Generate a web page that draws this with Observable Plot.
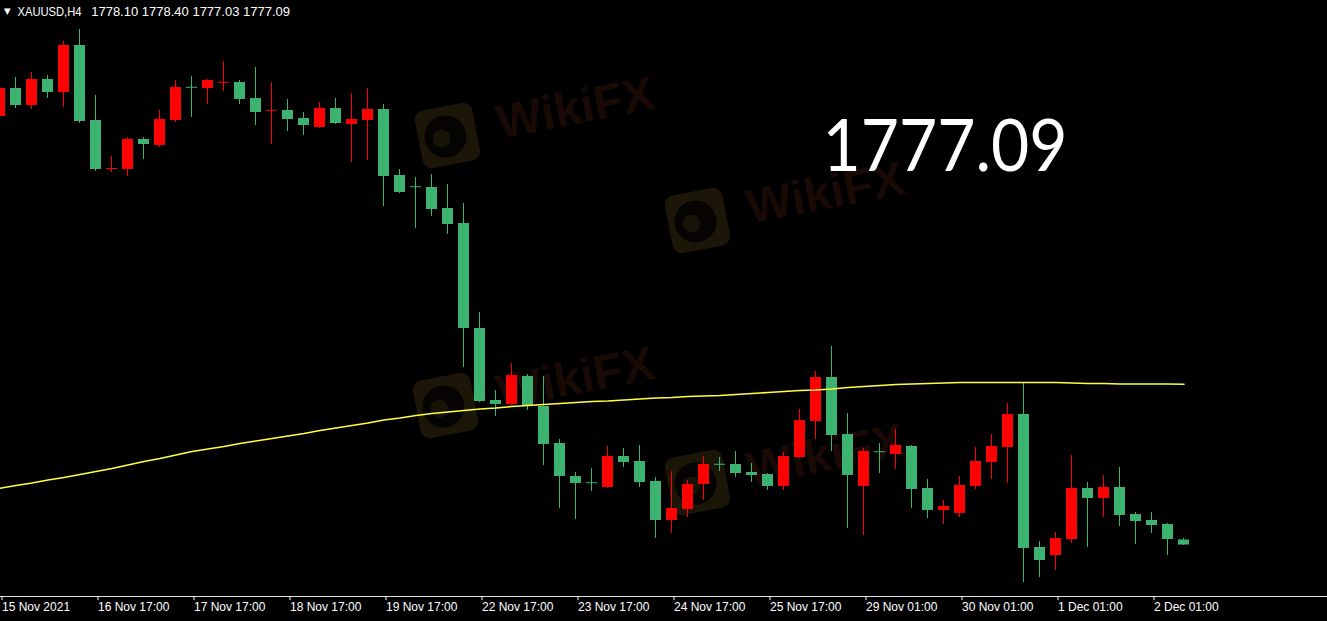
<!DOCTYPE html>
<html><head><meta charset="utf-8">
<script src="https://cdn.jsdelivr.net/npm/d3@7"></script>
<script src="https://cdn.jsdelivr.net/npm/@observablehq/plot@0.6"></script>
<style>
html,body{margin:0;padding:0;background:#000;overflow:hidden}
</style></head><body><div id="chart"></div>
<script>
const symbol = "XAUUSD,H4";
const opens = [1862.80,1868.40,1865.00,1870.20,1867.60,1877.00,1862.00,1852.20,1852.20,1858.20,1857.00,1862.00,1868.60,1868.40,1869.50,1869.60,1866.40,1863.90,1864.00,1862.40,1860.60,1864.40,1861.20,1862.00,1864.20,1851.00,1848.70,1848.60,1844.40,1841.40,1820.40,1806.00,1805.20,1810.80,1804.80,1797.40,1790.80,1789.50,1788.60,1794.80,1793.80,1789.80,1782.00,1784.20,1789.20,1793.20,1793.20,1791.60,1791.20,1788.80,1794.60,1801.80,1810.60,1799.20,1788.80,1795.70,1795.20,1796.80,1788.40,1784.00,1783.40,1788.80,1793.60,1796.60,1803.20,1776.60,1775.00,1778.20,1788.40,1786.40,1788.60,1783.20,1782.00,1781.20,1778.10];
const highs = [1869.20,1870.60,1871.60,1871.00,1877.80,1880.20,1867.00,1854.80,1858.60,1858.60,1864.00,1870.00,1870.80,1870.20,1873.80,1870.00,1872.60,1869.60,1866.20,1863.60,1865.60,1866.40,1867.40,1868.40,1865.20,1852.20,1850.60,1851.20,1849.20,1845.40,1823.60,1808.00,1813.40,1811.20,1810.80,1798.20,1791.60,1792.40,1796.80,1796.40,1797.00,1790.60,1791.80,1790.00,1794.80,1794.60,1795.80,1793.40,1791.40,1795.60,1804.20,1811.80,1816.80,1803.40,1796.40,1797.40,1800.20,1797.00,1790.20,1786.00,1790.80,1796.60,1799.20,1805.40,1809.40,1777.80,1779.60,1795.00,1789.60,1791.00,1792.60,1783.60,1783.60,1781.40,1778.40];
const lows = [1862.40,1864.40,1864.20,1866.40,1864.60,1861.40,1851.80,1851.60,1850.80,1854.20,1856.60,1861.60,1862.60,1865.20,1867.80,1865.20,1861.00,1857.20,1859.80,1859.00,1860.40,1861.20,1853.60,1854.00,1844.80,1847.40,1840.40,1842.80,1839.20,1812.60,1805.60,1802.80,1805.00,1804.00,1793.00,1784.40,1782.20,1787.80,1788.40,1792.60,1788.60,1778.40,1779.40,1782.60,1786.00,1791.80,1790.60,1789.60,1788.00,1788.00,1794.40,1798.20,1795.80,1780.40,1779.00,1791.40,1792.20,1784.40,1782.40,1781.20,1782.60,1788.20,1790.20,1789.40,1769.60,1770.60,1772.00,1777.40,1776.60,1782.60,1780.80,1777.20,1779.40,1775.00,1777.03];
const closes = [1868.40,1865.00,1870.20,1867.60,1877.00,1861.80,1852.20,1852.40,1858.20,1857.20,1862.20,1868.60,1868.50,1870.00,1869.60,1866.20,1863.60,1864.00,1862.20,1861.00,1864.40,1861.40,1862.20,1864.20,1850.80,1847.60,1848.60,1844.20,1841.20,1820.40,1805.80,1805.20,1811.00,1804.80,1797.20,1790.80,1789.40,1789.40,1794.80,1793.60,1789.60,1782.00,1784.40,1789.20,1793.20,1793.10,1791.40,1791.00,1788.80,1794.80,1802.00,1810.60,1799.00,1791.00,1795.80,1795.60,1797.00,1788.20,1784.00,1784.80,1789.00,1793.80,1796.80,1803.20,1776.40,1774.00,1778.40,1788.40,1786.40,1788.60,1783.00,1781.80,1781.00,1778.20,1777.09];
const movingAverage = [1788.46,1789.00,1789.50,1790.10,1790.60,1791.20,1791.80,1792.40,1793.10,1793.80,1794.40,1795.10,1795.80,1796.30,1796.80,1797.40,1797.90,1798.40,1798.90,1799.40,1800.00,1800.50,1801.00,1801.50,1802.10,1802.50,1803.00,1803.40,1803.70,1804.00,1804.30,1804.50,1804.80,1805.00,1805.20,1805.40,1805.60,1805.80,1805.90,1806.10,1806.30,1806.50,1806.60,1806.80,1806.90,1807.00,1807.20,1807.40,1807.60,1807.80,1808.00,1808.10,1808.30,1808.60,1808.80,1809.00,1809.20,1809.30,1809.40,1809.50,1809.60,1809.60,1809.60,1809.60,1809.60,1809.60,1809.60,1809.50,1809.40,1809.40,1809.30,1809.30,1809.30,1809.30,1809.26];
const tickBars = [0,6,12,18,24,30,36,42,48,54,60,66,72];
const tickLabels = ["15 Nov 2021","16 Nov 17:00","17 Nov 17:00","18 Nov 17:00","19 Nov 17:00","22 Nov 17:00","23 Nov 17:00","24 Nov 17:00","25 Nov 17:00","29 Nov 01:00","30 Nov 01:00","1 Dec 01:00","2 Dec 01:00"];
const watermark = "WikiFX";

const green = "#3cb371", red = "#ff0000";
const candles = opens.map((open, i) => ({i, open, high: highs[i], low: lows[i], close: closes[i]}));
const maData = movingAverage.map((v, i) => ({i, v}));
const last = candles[candles.length - 1];
const fmt = d3.format(".2f");
const labelOf = new Map(tickBars.map((b, k) => [b, tickLabels[k]]));
const col = d => d.close < d.open ? green : red;
const bodyHi = d => Math.max(d.open, d.close, (d.open + d.close) / 2 + 0.1);
const bodyLo = d => Math.min(d.open, d.close, (d.open + d.close) / 2 - 0.1);
const half = 5.5 / 16;

// rounded-square symbol for the watermark logo
const roundSquare = {
  draw(ctx, size) {
    const s = Math.sqrt(size), h = s / 2, r = s * 0.16;
    ctx.moveTo(-h + r, -h);
    ctx.lineTo(h - r, -h); ctx.arcTo(h, -h, h, -h + r, r);
    ctx.lineTo(h, h - r); ctx.arcTo(h, h, h - r, h, r);
    ctx.lineTo(-h + r, h); ctx.arcTo(-h, h, -h, h - r, r);
    ctx.lineTo(-h, -h + r); ctx.arcTo(-h, -h, -h + r, -h, r);
    ctx.closePath();
  }
};
const wmText = (dx, dy) => Plot.text([watermark], {frameAnchor: "top-left", dx, dy, rotate: -11, fontSize: 48, fontWeight: "bold", fill: "#190a06", textAnchor: "middle", lineAnchor: "middle", fontFamily: "Liberation Sans, Arial, sans-serif"});
const wmLogo = (dx, dy) => [
  Plot.dot([0], {frameAnchor: "top-left", dx, dy, symbol: roundSquare, r: 33, rotate: -11, fill: "#1b1608", stroke: "none"}),
  Plot.dot([0], {frameAnchor: "top-left", dx: dx - 2, dy: dy + 1, r: 21, fill: "#050402", stroke: "none"}),
  Plot.dot([0], {frameAnchor: "top-left", dx: dx - 6, dy: dy + 3, r: 9, fill: "#171307", stroke: "none"})
];

const chart = Plot.plot({
  width: 1327, height: 621,
  margin: 0, marginBottom: 25,
  style: {background: "#000", color: "#fff", fontFamily: "Liberation Sans, Arial, sans-serif", fontSize: "12px"},
  x: {type: "linear", domain: [0.5 / 16, 1327.5 / 16], axis: null, label: null},
  y: {domain: [1766.8, 1886], axis: null, label: null},
  marks: [
    wmLogo(447, 135), wmText(575, 108),
    wmLogo(697, 220), wmText(825, 193),
    wmLogo(445, 405), wmText(575, 378),
    wmLogo(697, 482), wmText(825, 455),
    Plot.ruleX(candles, {x: "i", y1: "low", y2: "high", stroke: col, strokeWidth: 1, dx: -0.5}),
    Plot.rect(candles, {x1: d => d.i - half, x2: d => d.i + half, y1: bodyLo, y2: bodyHi, fill: col}),
    Plot.line(maData, {x: "i", y: "v", stroke: "#ffff40", strokeWidth: 1.6}),
    Plot.frame({anchor: "bottom", stroke: "#e0e0e0"}),
    Plot.axisX(tickBars, {anchor: "bottom", label: null, tickFormat: d => labelOf.get(d), tickSize: 4, tickPadding: 2, textAnchor: "start", dx: 2, fontSize: 12, color: "#fff"}),
    Plot.text(["\u25BC"], {frameAnchor: "top-left", dx: 6.7, dy: 10.5, fontSize: 8.5, textAnchor: "middle", lineAnchor: "middle", fill: "#fff", fontFamily: "DejaVu Sans"}),
    Plot.text([symbol], {frameAnchor: "top-left", dx: 17, dy: 6, textAnchor: "start", lineAnchor: "top", fontSize: 13, fill: "#fff"}),
    Plot.text([[last.open, last.high, last.low, last.close].map(fmt).join(" ")], {frameAnchor: "top-left", dx: 90.7, dy: 6, textAnchor: "start", lineAnchor: "top", fontSize: 13, fill: "#fff"}),
    Plot.text([fmt(last.close)], {frameAnchor: "top-left", dx: 822, dy: 147, textAnchor: "start", lineAnchor: "middle", fontSize: 72, fill: "#fff", fontFamily: "Lato, Liberation Sans, sans-serif"})
  ]
});
document.getElementById("chart").appendChild(chart);
const big = fmt(last.close);
d3.select(chart).selectAll("text").filter(function() { return this.textContent === big; })
  .attr("textLength", 245).attr("lengthAdjust", "spacingAndGlyphs");
d3.select(chart).selectAll("text").filter(function() { return this.textContent === symbol; })
  .attr("textLength", 64).attr("lengthAdjust", "spacingAndGlyphs");
</script>
</body></html>
